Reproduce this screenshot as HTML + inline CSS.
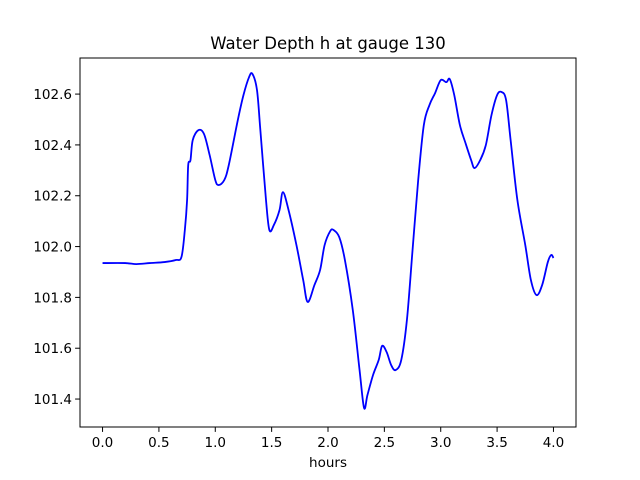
<!DOCTYPE html>
<html>
<head>
<meta charset="utf-8">
<style>
  html,body{margin:0;padding:0;background:#fff;}
  svg{display:block;font-family:"DejaVu Sans","Liberation Sans",sans-serif;}
</style>
</head>
<body>
<svg id="chart" width="640" height="480" viewBox="0 0 640 480" xmlns="http://www.w3.org/2000/svg">
  <rect x="0" y="0" width="640" height="480" fill="#fff"/>
  <text x="328" y="49" font-size="16.5" text-anchor="middle" fill="#000">Water Depth h at gauge 130</text>
  <g id="ticks"></g>
  <path id="series" fill="none" stroke="#0000ff" stroke-width="1.8" stroke-linejoin="round"/>
  <rect x="80" y="58" width="496" height="369" fill="none" stroke="#000" stroke-width="1"/>
  <text x="328" y="467" font-size="13.5" text-anchor="middle" fill="#000">hours</text>
</svg>
<script>
const hours = [0,0.2,0.3,0.42,0.55,0.65,0.7,0.73,0.75,0.76,0.78,0.8,0.85,0.9,0.95,1.0,1.03,1.08,1.12,1.2,1.25,1.3,1.33,1.37,1.4,1.45,1.48,1.52,1.57,1.6,1.65,1.72,1.78,1.82,1.88,1.93,1.97,2.02,2.05,2.1,2.15,2.22,2.28,2.32,2.35,2.4,2.45,2.48,2.52,2.56,2.6,2.65,2.7,2.75,2.8,2.85,2.9,2.95,3.0,3.05,3.08,3.12,3.17,3.22,3.27,3.3,3.35,3.4,3.45,3.5,3.54,3.58,3.62,3.68,3.75,3.8,3.85,3.9,3.95,3.98,4.0];
const depth = [101.935,101.935,101.931,101.935,101.939,101.947,101.959,102.065,102.183,102.321,102.340,102.419,102.458,102.443,102.360,102.262,102.242,102.262,102.321,102.498,102.596,102.667,102.679,102.616,102.458,102.183,102.065,102.085,102.144,102.214,102.144,102.006,101.868,101.782,101.849,101.908,102.006,102.061,102.065,102.037,101.947,101.750,101.514,101.365,101.416,101.495,101.554,101.609,101.585,101.534,101.514,101.554,101.711,101.986,102.261,102.478,102.557,102.604,102.655,102.647,102.659,102.596,102.478,102.407,102.340,102.309,102.340,102.399,102.517,102.596,102.608,102.576,102.419,102.183,102.006,101.868,101.809,101.849,101.939,101.967,101.955];
const xTicks = [0,0.5,1.0,1.5,2.0,2.5,3.0,3.5,4.0];
const xTickLabels = ["0.0","0.5","1.0","1.5","2.0","2.5","3.0","3.5","4.0"];
const yTicks = [101.4,101.6,101.8,102.0,102.2,102.4,102.6];
const yTickLabels = ["101.4","101.6","101.8","102.0","102.2","102.4","102.6"];

const L=80,R=576,T=58,B=427;
const xMin=-0.2,xMax=4.2,yMin=101.29,yMax=102.742;
function sx(v){return L+(v-xMin)/(xMax-xMin)*(R-L);}
function sy(v){return B-(v-yMin)/(yMax-yMin)*(B-T);}

const NS="http://www.w3.org/2000/svg";
const g=document.getElementById('ticks');
xTicks.forEach((t,i)=>{
  const l=document.createElementNS(NS,'line');
  
  
  l.setAttribute('x1',sx(t));l.setAttribute('x2',sx(t));
  l.setAttribute('y1',B);l.setAttribute('y2',B+4.9);
  l.setAttribute('stroke','#000');
  g.appendChild(l);
  const tx=document.createElementNS(NS,'text');
  
  
  tx.setAttribute('x',sx(t));tx.setAttribute('y',B+20);
  tx.setAttribute('font-size','13.5');tx.setAttribute('text-anchor','middle');
  tx.textContent=xTickLabels[i];
  g.appendChild(tx);
});
yTicks.forEach((t,i)=>{
  const l=document.createElementNS(NS,'line');
  
  
  l.setAttribute('x1',L-4.9);l.setAttribute('x2',L);
  l.setAttribute('y1',sy(t));l.setAttribute('y2',sy(t));
  l.setAttribute('stroke','#000');
  g.appendChild(l);
  const tx=document.createElementNS(NS,'text');
  
  
  tx.setAttribute('x',L-8);tx.setAttribute('y',sy(t)+5);
  tx.setAttribute('font-size','13.5');tx.setAttribute('text-anchor','end');
  tx.textContent=yTickLabels[i];
  g.appendChild(tx);
});

// smooth line through points (Catmull-Rom)
const pts=hours.map((h,i)=>[sx(h),sy(depth[i])]);
let d='M'+pts[0][0]+','+pts[0][1];
for(let i=0;i<pts.length-1;i++){
  const p0=pts[Math.max(0,i-1)],p1=pts[i],p2=pts[i+1],p3=pts[Math.min(pts.length-1,i+2)];
  const c1x=p1[0]+(p2[0]-p0[0])/6,c1y=p1[1]+(p2[1]-p0[1])/6;
  const c2x=p2[0]-(p3[0]-p1[0])/6,c2y=p2[1]-(p3[1]-p1[1])/6;
  d+=' C'+c1x+','+c1y+' '+c2x+','+c2y+' '+p2[0]+','+p2[1];
}
document.getElementById('series').setAttribute('d',d);
</script>
</body>
</html>
